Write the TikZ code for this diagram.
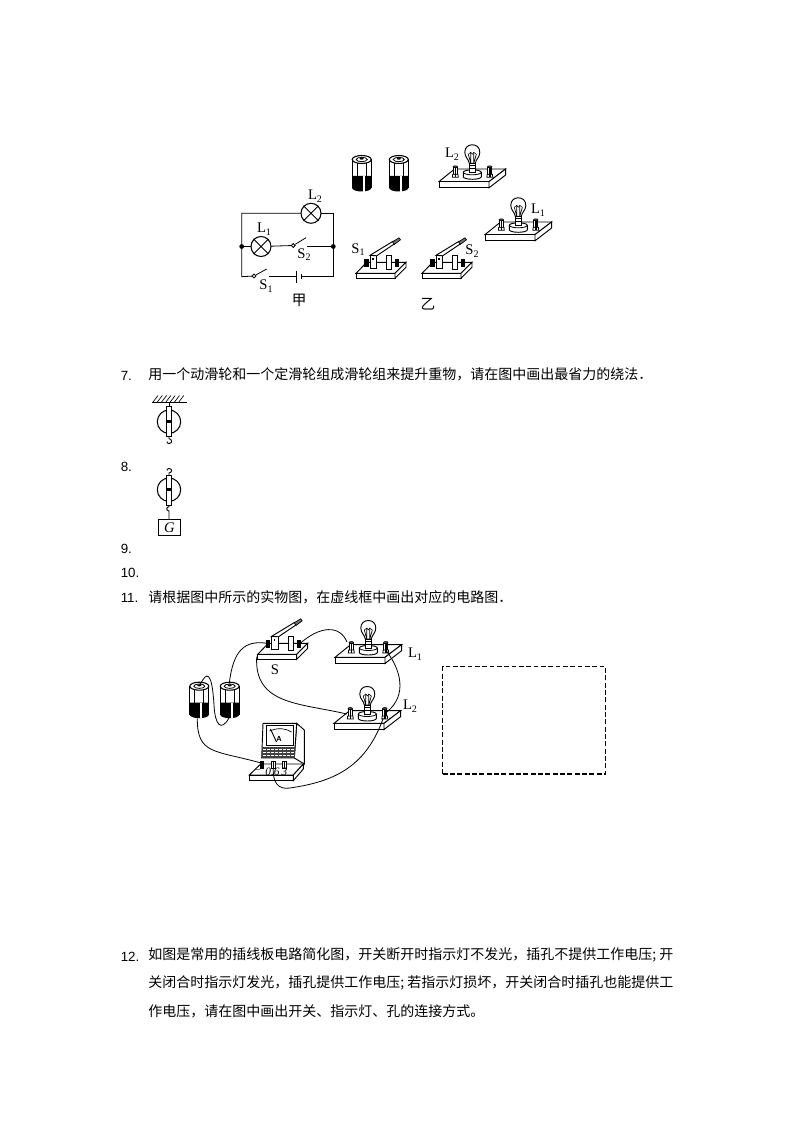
\documentclass[tikz,border=0pt]{standalone}
\usepackage{fontspec}
\setmainfont{Liberation Serif}
\newfontfamily\cjk{Noto Sans CJK SC}
\newfontfamily\numf{Liberation Sans}
\newcommand{\subl}[2]{#1\raisebox{-2pt}{\fontsize{7.5}{7.5}\selectfont #2}}
\tikzset{
  wire/.style={line width=0.6pt},
  cjkline/.style={anchor=west,inner sep=0pt,font=\cjk\fontsize{10.5}{12}\selectfont},
  numlabel/.style={anchor=west,inner sep=0pt,font=\numf\fontsize{10}{12}\selectfont},
  partlabel/.style={inner sep=0pt,font=\fontsize{11}{12}\selectfont},
  figcaption/.style={inner sep=0pt,font=\cjk\fontsize{11}{12}\selectfont},
  lamp/.style={circle,draw,line width=0.8pt,minimum size=15pt,inner sep=0pt,fill=white},
  jdot/.style={circle,fill=black,inner sep=0pt,minimum size=3.6pt},
  contact/.style={circle,draw,fill=white,inner sep=0pt,minimum size=2.8pt,line width=0.5pt},
  bindpost/.pic={
    \draw[fill=white,line width=0.6pt] (-2,-8) rectangle (2,-1);
    \fill (-0.7,-8) rectangle (0.7,-1);
    \draw[fill=black!70,line width=0.4pt] (0,-8.5) ellipse (2.3 and 1);
    \draw[fill=white,line width=0.6pt] (-2.6,-1) -- (2.6,-1) -- (3,2) -- (-3,2) -- cycle;
    \fill (-0.7,-1) rectangle (0.7,2);
  },
  bulbboard/.pic={
    \draw[fill=white,line width=0.7pt] (-33.3,7.3) -- (-17.7,-5.3) -- (33.3,-5.3) -- (16.7,7.3) -- cycle;
    \draw[fill=white,line width=0.7pt] (-33.3,7.3) rectangle (16.7,13.5);
    \draw[fill=white,line width=0.7pt] (16.7,7.3) -- (33.3,-5.3) -- (33.3,0.7) -- (16.7,13.5) -- cycle;
    \pic at (-17,1) {bindpost};
    \pic at (17.5,1) {bindpost};
    \draw[fill=white,line width=0.7pt] (-9,-2) -- (-9,2.5) arc[start angle=180,end angle=0,x radius=9,y radius=2.5] -- (9,-2) arc[start angle=0,end angle=-180,x radius=9,y radius=2.5];
    \draw[line width=0.6pt] (-9,-2) arc[start angle=180,end angle=0,x radius=9,y radius=2.5];
    \draw[fill=white,line width=0.7pt] (-3,-11) .. controls (-3.5,-15) and (-7.5,-17) .. (-7.5,-22) .. controls (-7.5,-27) and (-4,-29.5) .. (0,-29.5) .. controls (4,-29.5) and (7.5,-27) .. (7.5,-22) .. controls (7.5,-17) and (3.5,-15) .. (3,-11) -- cycle;
    \draw[fill=white,line width=0.7pt] (-3.3,-11) rectangle (3.3,-2);
    \draw[line width=0.6pt] (-3.3,-8.5) -- (3.3,-8.5) (-3.3,-6) -- (3.3,-6);
    \draw[line width=0.5pt] (-1.5,-11) -- (-4,-20) (-1.5,-11) -- (-1.5,-22) (1.5,-11) -- (1.5,-22) (1.5,-11) -- (4,-20);
    \draw[line width=0.4pt] (-4,-20) -- (-1.5,-22) -- (0,-20) -- (1.5,-22) -- (4,-20);
  },
  knifeswitch/.pic={
    \draw[fill=white,line width=0.7pt] (0,0) -- (10.7,-11) -- (50,-11) -- (39,0) -- cycle;
    \draw[fill=white,line width=0.7pt] (0,0) rectangle (39,5);
    \draw[fill=white,line width=0.7pt] (39,0) -- (50,-11) -- (50,-6) -- (39,5) -- cycle;
    \fill (8.3,-14.3) rectangle (12.7,-6);
    \fill (39,-14.3) rectangle (43,-6);
    \draw[line width=0.6pt] (12.7,-11) -- (39,-11);
    \draw[fill=white,line width=0.7pt] (30.7,-18) rectangle (35.7,-4);
    \draw[fill=white,line width=0.7pt] (14,-18) rectangle (20.7,-5);
    \fill (16,-15) rectangle (17.5,-13.5);
    \draw[fill=white,line width=0.7pt] (14,-18) -- (37,-32) -- (38.5,-29.5) -- (20.7,-17.5) -- cycle;
    \draw[fill=black!55,line width=0.5pt] (36.5,-31.5) -- (43,-35.5) -- (44.5,-33.5) -- (38.5,-29) -- cycle;
  },
  cell/.pic={
    \fill[white] (-9.5,4.5) rectangle (9.5,33);
    \fill (-9.5,21) -- (9.5,21) -- (9.5,33) arc[start angle=0,end angle=180,x radius=9.5,y radius=3.5] -- cycle;
    \fill[white] (1,21) rectangle (3,36.6);
    \draw[line width=0.8pt] (-9.5,4.5) -- (-9.5,33) (9.5,4.5) -- (9.5,33);
    \draw[line width=0.6pt] (-4.5,8) -- (-4.5,21) (4.5,8) -- (4.5,21);
    \draw[line width=0.8pt,fill=white] (0,4.5) ellipse (9.5 and 4);
    \draw[line width=0.6pt,fill=white] (0,4.5) ellipse (5.5 and 2.2);
    \fill (0,3.7) ellipse (2 and 1);
  }
}
\begin{document}
\begin{tikzpicture}[x=0.75pt,y=-0.75pt]
\useasboundingbox (0,0) rectangle (794,1123);
\fill[white] (0,0) rectangle (794,1123);

% ---- circuit diagram
\node[jdot] (jl) at (241.7,246.5) {};
\node[jdot] (jr) at (333.3,246.5) {};
\coordinate (tl) at (241.7,213.3);
\coordinate (tr) at (333.3,213.3);
\coordinate (bl) at (241.7,276.7);
\coordinate (br) at (333.3,276.7);
\coordinate (lamptwopos) at (311,213.3);
\coordinate (lamponepos) at (261,246.5);
\node[contact] (stwo) at (293.3,245.5) {};
\coordinate (stwoend) at (306,237.7);
\coordinate (stworet) at (307.3,246.5);
\node[contact] (sone) at (254,276) {};
\coordinate (soneend) at (266.7,269);
\coordinate (soneret) at (269,276.7);
\coordinate (platelong) at (296.3,276.7);
\coordinate (plateshort) at (301.3,276.7);
\draw[wire] (lamptwopos) -- (tl) -- (bl) -- (sone);
\draw[wire] (lamptwopos) -- (tr) -- (br) -- (plateshort);
\draw[wire] (jl) -- (lamponepos);
\draw[wire] (lamponepos) -- (stwo);
\draw[wire] (stwo) -- (stwoend);
\draw[wire] (stworet) -- (jr);
\draw[wire] (sone) -- (soneend);
\draw[wire] (soneret) -- (platelong);
\draw[line width=0.7pt] (296.3,271) -- (296.3,283);
\draw[line width=0.7pt] (301.3,274) -- (301.3,279.3);
\node[lamp] (lamptwo) at (lamptwopos) {};
\node[lamp] (lampone) at (lamponepos) {};
\draw[line width=0.6pt] (lamptwo.north west) -- (lamptwo.south east) (lamptwo.north east) -- (lamptwo.south west);
\draw[line width=0.6pt] (lampone.north west) -- (lampone.south east) (lampone.north east) -- (lampone.south west);
\node[contact] at (293.3,245.5) {};
\node[contact] at (254,276) {};
\node[partlabel] (ltwo) at (315,196) {\subl{L}{2}};
\node[partlabel] (lone) at (264,229) {\subl{L}{1}};
\node[partlabel] (stwolab) at (304,254.5) {\subl{S}{2}};
\node[partlabel] (sonelab) at (266,286) {\subl{S}{1}};
\node[figcaption] (jia) at (299.3,300.5) {甲};
\node[figcaption] (yi) at (428,304) {乙};

% ---- top apparatus
\pic at (361.7,155) {cell};
\pic at (398.8,155) {cell};
\pic at (472.3,174.3) {bulbboard};
\pic at (518.3,227.3) {bulbboard};
\pic at (356,273.3) {knifeswitch};
\pic at (422,273.3) {knifeswitch};
\node[partlabel] (ltwob) at (452,154.5) {\subl{L}{2}};
\node[partlabel] (loneb) at (538,210) {\subl{L}{1}};
\node[partlabel] (sonec) at (358,249.5) {\subl{S}{1}};
\node[partlabel] (stwoc) at (472,251) {\subl{S}{2}};

% ---- question text
\node[numlabel] (qseven) at (120.5,376) {7.};
\node[cjkline] (tseven) at (148,374.5) {用一个动滑轮和一个定滑轮组成滑轮组来提升重物，请在图中画出最省力的绕法．};
\node[numlabel] (qeight) at (120.5,467) {8.};
\node[numlabel] (qnine) at (120.5,549) {9.};
\node[numlabel] (qten) at (120.5,573) {10.};
\node[numlabel] (qeleven) at (120.5,598) {11.};
\node[cjkline] (televen) at (148,597) {请根据图中所示的实物图，在虚线框中画出对应的电路图．};
\node[numlabel] (qtwelve) at (120.5,957) {12.};
\node[cjkline] (ta) at (148,955) {如图是常用的插线板电路简化图，开关断开时指示灯不发光，插孔不提供工作电压; 开};
\node[cjkline] (tb) at (148,983) {关闭合时指示灯发光，插孔提供工作电压; 若指示灯损坏，开关闭合时插孔也能提供工};
\node[cjkline] (tc) at (148,1011) {作电压，请在图中画出开关、指示灯、孔的连接方式。};

% ---- fixed pulley
\draw[line width=1pt] (151.7,402.3) -- (186.7,402.3);
\foreach \x in {153,157.3,...,183} \draw[line width=0.5pt] (\x,402) -- (\x+5,395.5);
\draw[line width=0.6pt] (169,402.3) -- (169,407);
\draw[line width=0.8pt] (169,421.7) circle (11.7);
\draw[fill=white,line width=0.7pt] (166.7,406.7) rectangle (171.7,436.7);
\fill (167.3,420) rectangle (170.7,423.4);
\draw[line width=0.7pt] (169,436.7) -- (169,438.5) .. controls (172.5,439.5) and (172.5,443.5) .. (169,443.5) .. controls (167.5,443.5) and (167,442.5) .. (167,441.5);

% ---- movable pulley
\draw[line width=0.8pt] (169,489.7) circle (11.7);
\draw[fill=white,line width=0.7pt] (166.7,475) rectangle (171.7,505);
\fill (167.3,488) rectangle (170.7,491.4);
\draw[line width=0.7pt] (169,475) -- (169,473) .. controls (172.5,472.5) and (172.5,468.5) .. (169,468.5) .. controls (167.5,468.5) and (167,469.5) .. (167,470.5);
\node[draw,line width=0.7pt,minimum width=16.7pt,minimum height=12.4pt,inner sep=0pt,font=\itshape\fontsize{11}{12}\selectfont] (gbox) at (169.5,527.5) {G};
\draw[line width=0.7pt] (169,505) -- (169,506.5) .. controls (166,507.5) and (166,510.5) .. (169,511) -- (gbox.north -| 169,511);

% ---- apparatus of question 11
\pic at (199.3,681.7) {cell};
\pic at (229.7,681.7) {cell};
\pic at (257.7,654.3) {knifeswitch};
\pic at (368.3,650) {bulbboard};
\pic at (367.3,716) {bulbboard};
\node[partlabel] (lonec) at (415,654.5) {\subl{L}{1}};
\node[partlabel] (ltwoc) at (410,706) {\subl{L}{2}};
\node[partlabel] (slab) at (275,670) {S};

% ---- ammeter
\draw[fill=white,line width=0.7pt] (249.3,775) -- (260.7,764) -- (303.3,764) -- (293.3,775) -- cycle;
\draw[fill=white,line width=0.7pt] (249.3,775) rectangle (293.3,780.7);
\draw[fill=white,line width=0.7pt] (293.3,775) -- (303.3,764) -- (303.3,769) -- (293.3,780.7) -- cycle;
\draw[fill=white,line width=0.7pt] (296.7,723.3) -- (304.3,730) -- (304.3,764) -- (294.3,758) -- cycle;
\draw[fill=white,line width=0.7pt] (261.7,758) -- (263,723.3) -- (296.7,723.3) -- (294.3,758) -- cycle;
\draw[line width=0.6pt] (266.7,725.5) rectangle (293.5,745);
\draw[line width=0.5pt] (269.5,731) .. controls (278,727.5) and (285,728) .. (291.5,732);
\draw[line width=0.7pt] (270.5,729) -- (276.5,742);
\fill[black!75] (262,746.7) rectangle (294.5,758);
\foreach \y in {749,752,755} \draw[white,line width=0.3pt,dash pattern=on 2pt off 1pt] (263,\y) -- (294,\y);
\node[inner sep=0pt,font=\sffamily\bfseries\fontsize{5.5}{6}\selectfont] (alab) at (279,739) {A};
\foreach \x in {262,273.5,284.5} {
  \draw[fill=white,line width=0.5pt] (\x-1.8,761.5) rectangle (\x+1.8,768);
  \fill (\x-0.6,761.5) rectangle (\x+0.6,768);
}
\node[inner sep=0pt,font=\itshape\fontsize{8.5}{9}\selectfont] (aminus) at (257.5,771.5) {−};
\node[inner sep=0pt,font=\itshape\fontsize{8.5}{9}\selectfont] (azero) at (272.5,771.5) {0.6};
\node[inner sep=0pt,font=\itshape\fontsize{8.5}{9}\selectfont] (athree) at (284.5,771.5) {3};

% ---- dashed box
\node[draw,line width=0.8pt,dash pattern=on 3.6pt off 1.9pt,minimum width=122.2pt,minimum height=80.4pt,inner sep=0pt] (dbox) at (524.2,720.4) {};

% ---- wires of question 11
\coordinate (celltwotop) at (229.3,683.5);
\coordinate (swleft) at (266.7,643.3);
\coordinate (cellonetop) at (200,685);
\coordinate (celltwobot) at (229,718);
\coordinate (cellonebot) at (197.3,718.3);
\coordinate (metminus) at (261,763);
\coordinate (swright) at (298.3,645);
\coordinate (loneleft) at (347,642);
\coordinate (swfront) at (256.7,656.7);
\coordinate (ltwoleft) at (346.7,714);
\coordinate (loneright) at (385.7,650);
\coordinate (ltworight) at (384,714);
\coordinate (ltwobase) at (383.3,718);
\coordinate (metmid) at (273.5,767);
\draw[wire] (celltwotop) .. controls (233,650) and (245,640) .. (swleft);
\draw[wire] (cellonetop) .. controls (207,670) and (212,672) .. (214,705) .. controls (215,725) and (221,732) .. (celltwobot);
\draw[wire] (cellonebot) .. controls (197,755) and (215,750) .. (metminus);
\draw[wire] (swright) .. controls (320,625) and (340,625) .. (loneleft);
\draw[wire] (swfront) .. controls (254,705) and (300,703) .. (ltwoleft);
\draw[wire] (loneright) .. controls (405,675) and (405,700) .. (ltworight);
\draw[wire] (ltwobase) .. controls (365,770) and (330,782) .. (290,788) .. controls (278,790) and (272,782) .. (metmid);
\end{tikzpicture}
\end{document}
